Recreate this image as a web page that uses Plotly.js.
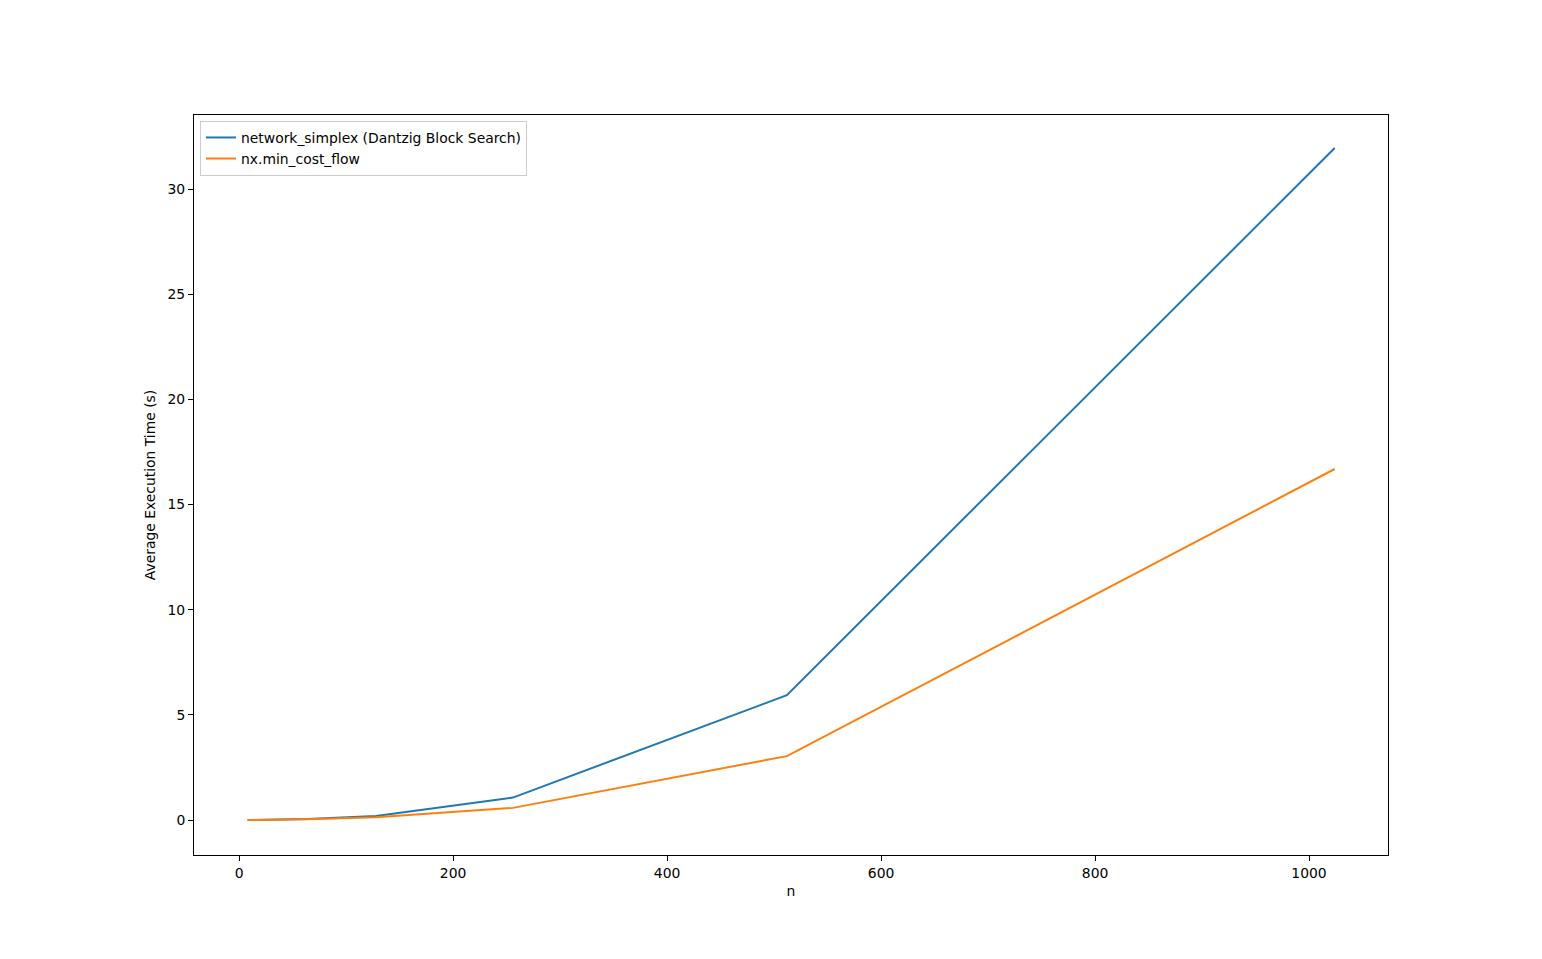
<!DOCTYPE html>
<html>
<head>
<meta charset="utf-8">
<script src="https://cdn.plot.ly/plotly-3.0.1.min.js"></script>
<style>html,body{margin:0;padding:0;background:#fff;}#chart{width:1542px;height:959px;}</style>
</head>
<body>
<div id="chart"></div>
<script>
const nValues = [8, 16, 32, 64, 128, 256, 512, 1024];
const networkSimplex = [0.002, 0.006, 0.02, 0.05, 0.19, 1.07, 5.94, 31.95];
const minCostFlow = [0.001, 0.004, 0.015, 0.04, 0.13, 0.58, 3.04, 16.69];
const seriesNames = ["network_simplex (Dantzig Block Search)", "nx.min_cost_flow"];

const font = {family: "DejaVu Sans, sans-serif", size: 13.9, color: "#000"};
const traces = [
  {x: nValues, y: networkSimplex, name: seriesNames[0], mode: "lines", line: {color: "#1f77b4", width: 2}},
  {x: nValues, y: minCostFlow, name: seriesNames[1], mode: "lines", line: {color: "#ff7f0e", width: 2}}
];
const axisCommon = {
  showgrid: false, zeroline: false, showline: true, linecolor: "#000", linewidth: 1,
  mirror: true, ticks: "outside", ticklen: 5, tickwidth: 1, tickcolor: "#000",
  tickfont: font
};
const layout = {
  width: 1542, height: 959,
  margin: {l: 194, r: 154, t: 115, b: 104},
  paper_bgcolor: "#fff", plot_bgcolor: "#fff",
  font: font,
  showlegend: true,
  legend: {x: 0.005, y: 0.992, xanchor: "left", yanchor: "top", bgcolor: "rgba(255,255,255,0.8)",
           bordercolor: "#ccc", borderwidth: 1, font: font, tracegroupgap: 0},
  xaxis: Object.assign({}, axisCommon, {range: [-42.1, 1073.8], tickvals: [0, 200, 400, 600, 800, 1000],
          title: {text: "n", font: font, standoff: 6}}),
  yaxis: Object.assign({}, axisCommon, {range: [-1.66, 33.52], tickvals: [0, 5, 10, 15, 20, 25, 30],
          title: {text: "Average Execution Time (s)", font: font, standoff: 8}})
};
Plotly.newPlot("chart", traces, layout, {displayModeBar: false, staticPlot: true});
</script>
</body>
</html>
